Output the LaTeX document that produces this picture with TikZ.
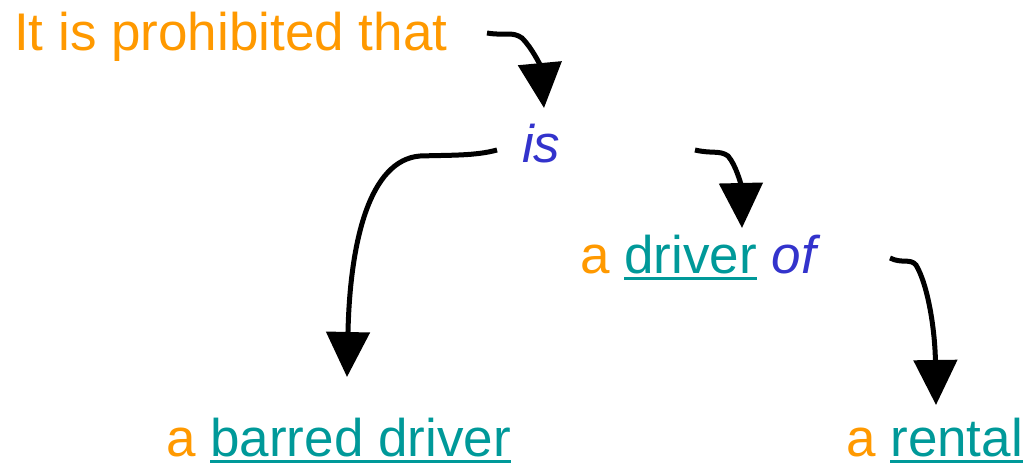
\documentclass[tikz,border=0pt]{standalone}
\usepackage{fontspec}
\setmainfont{Liberation Sans}
\usetikzlibrary{arrows.meta}
\definecolor{modal}{HTML}{FF9900}
\definecolor{noun}{HTML}{009999}
\definecolor{verb}{HTML}{3333CC}
\newcommand{\term}[1]{\setbox0\hbox{\color{noun}#1}\rlap{\color{noun}\rule[-7pt]{\wd0}{3pt}}\box0\relax}

\begin{document}
\begin{tikzpicture}[x=1pt, y=-1pt, >={Triangle[length=45pt,width=43pt]},
    every node/.style={inner sep=0pt, anchor=base west, font=\fontsize{53}{60}\selectfont},
    link/.style={->, line width=5pt}]
    \useasboundingbox (0,0) rectangle (1026,466);
    \node [text=modal] (rule) at (14,50) {It is prohibited that};
    \node [text=verb, font=\fontsize{53}{60}\selectfont\itshape] (is) at (522,162) {is};
    \node (driver) at (580,273) {{\color{modal}a} \term{driver} {\color{verb}\itshape of}};
    \node (barred) at (166,456) {{\color{modal}a} \term{barred driver}};
    \node (rental) at (846,456) {{\color{modal}a} \term{rental}};
    \coordinate (rule-out) at (487,33);
    \coordinate (is-in) at (544,108);
    \coordinate (is-left) at (497,150);
    \coordinate (is-right) at (695,150);
    \coordinate (barred-in) at (347,377);
    \coordinate (driver-in) at (742,228);
    \coordinate (of-out) at (890,258);
    \coordinate (rental-in) at (936,405);
    \draw [link] (rule-out) .. controls (505,36) and (512,31) .. (522,38) .. controls (532,48) and (540,65) .. (is-in);
    \draw [link] (is-left) .. controls (475,156) and (450,155) .. (420,156) .. controls (370,160) and (350,240) .. (barred-in);
    \draw [link] (is-right) .. controls (712,154) and (720,150) .. (728,156) .. controls (736,165) and (741,185) .. (driver-in);
    \draw [link] (of-out) .. controls (902,264) and (910,258) .. (916,265) .. controls (928,285) and (935,330) .. (rental-in);
\end{tikzpicture}
\end{document}
